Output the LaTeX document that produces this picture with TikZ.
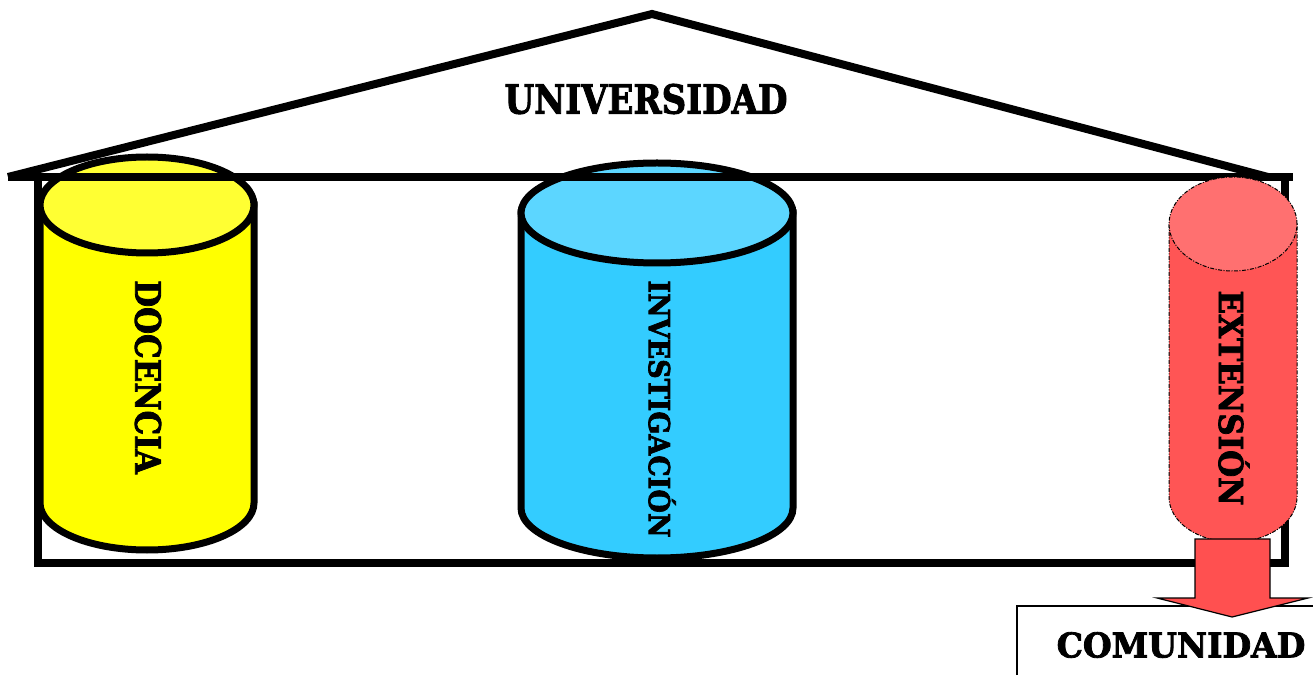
\documentclass[tikz,border=0pt]{standalone}
\usepackage{fontspec}
\setmainfont{DejaVu Serif}[BoldFeatures={FakeBold=2.4}]
\usepackage{graphicx}
\begin{document}
\begin{tikzpicture}[x=1pt,y=1pt,
  house/.style={line width=8pt, line join=miter},
  cyl/.style={line width=7pt},
  redcyl/.style={line width=1pt, dash pattern=on 4pt off 1.5pt on 1pt off 1.5pt},
  lbl/.style={inner sep=0pt}]
\definecolor{ysd}{HTML}{FFFF00}
\definecolor{ytp}{HTML}{FFFF33}
\definecolor{bsd}{HTML}{33CCFF}
\definecolor{btp}{HTML}{5CD6FF}
\definecolor{rsd}{HTML}{FF5555}
\definecolor{rtp}{HTML}{FF7070}
\definecolor{arr}{HTML}{FF5050}
\useasboundingbox (0,0) rectangle (1313,675);
% yellow cylinder
\draw[cyl, fill=ysd] (40,470) -- (40,172) arc[start angle=180,end angle=360,x radius=107pt,y radius=47pt] -- (254,470) -- cycle;
\draw[cyl, fill=ytp] (147,470) ellipse [x radius=107pt, y radius=48pt];
% blue cylinder
\draw[cyl, fill=bsd] (521,462) -- (521,167) arc[start angle=180,end angle=360,x radius=136pt,y radius=50pt] -- (793,462) -- cycle;
\draw[cyl, fill=btp] (657,462) ellipse [x radius=136pt, y radius=50pt];
% house
\draw[house] (8,498) -- (652,661) -- (1268,498);
\draw[house] (8,498) -- (1293,498);
\draw[house] (38,498) rectangle (1285,112);
\node[lbl] (univ) at (646,576) {\bfseries\fontsize{40}{40}\selectfont\scalebox{0.85}[1]{UNIVERSIDAD}};
% community box
\draw[line width=1.5pt] (1017,0) -- (1017,69) -- (1313,69);
\node[lbl] (comu) at (1181,30) {\bfseries\fontsize{34}{34}\selectfont\scalebox{0.97}[1]{COMUNIDAD}};
% red cylinder
\draw[redcyl, fill=rsd] (1169,451) -- (1169,178) arc[start angle=180,end angle=360,x radius=64pt,y radius=45pt] -- (1297,451) -- cycle;
\draw[redcyl, fill=rtp] (1233,451) ellipse [x radius=64pt, y radius=47pt];
% arrow
\draw[line width=1.2pt, fill=arr, line join=miter] (1195,136) -- (1195,77) -- (1157,77) -- (1232,58) -- (1308,77) -- (1270,77) -- (1270,136) -- cycle;
% labels
\node[lbl, rotate=-90] (doc) at (148,298) {\bfseries\fontsize{35}{35}\selectfont\scalebox{0.885}[1]{DOCENCIA}};
\node[lbl, rotate=-90] (inv) at (662,266) {\bfseries\fontsize{29}{29}\selectfont\scalebox{0.93}[1]{INVESTIGACIÓN}};
\node[lbl, rotate=-90] (ext) at (1234,277) {\bfseries\fontsize{33}{33}\selectfont\scalebox{0.94}[1]{EXTENSIÓN}};
\end{tikzpicture}
\end{document}
